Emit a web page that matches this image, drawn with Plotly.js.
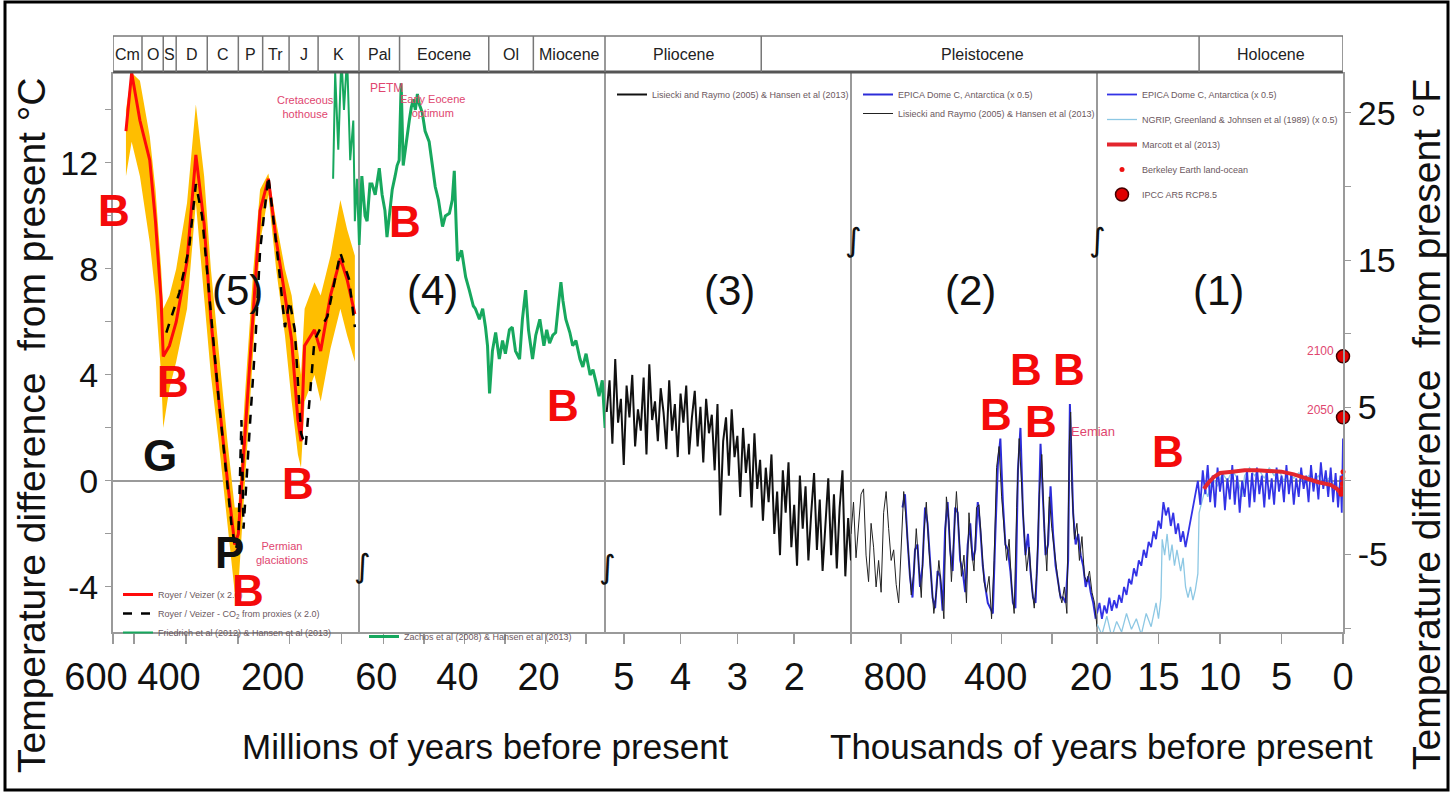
<!DOCTYPE html>
<html><head><meta charset="utf-8">
<script src="https://cdn.plot.ly/plotly-3.0.1.min.js"></script>
<style>html,body{margin:0;padding:0;background:#fff;}#chart{width:1453px;height:804px;}</style>
</head><body><div id="chart"></div>
<script>
// ===================== DATA =====================
// Panel (5): Phanerozoic, millions of years before present
const periodNames = ['Cm','O','S','D','C','P','Tr','J','K'];
const periodBounds = [541,485,444,419,359,299,252,201,145,66];
const royerAge = [516,505,489,470,459,448,444,432,419,398,381,365,352,337,320,306,299,287,270,257,241,226,209,196,184,178,171,152,140,121,102,89,74];
const royerTemp = [13.2,15.4,13.6,12.1,9.8,6.8,4.7,5.1,6.0,8.3,12.3,9.7,6.1,3.1,0.0,-2.4,-2.0,1.5,6.8,10.2,11.4,9.1,7.0,5.3,2.3,1.5,5.1,5.7,4.9,7.0,8.4,7.6,6.3];
const royerUpperTemp = [14.0,15.4,15.1,13.0,11.0,8.0,6.5,7.0,8.0,10.5,14.2,11.5,8.0,5.0,1.5,-1.0,-1.0,3.0,8.0,11.0,11.6,9.8,8.0,7.0,5.0,4.0,6.5,7.5,7.0,8.5,10.6,9.5,8.5];
const royerLowerTemp = [11.5,12.8,11.5,9.0,7.0,4.0,2.0,3.5,4.5,6.5,10.5,7.0,4.0,1.5,-1.5,-4.2,-4.0,0.0,5.0,9.0,10.8,8.0,5.5,3.0,1.0,0.5,3.0,4.0,3.0,5.0,6.5,5.5,4.5];
const co2Age = [438,413,394,381,369,356,346,337,323,312,304,299,293,289,276,266,257,241,222,209,200,190,178,169,152,142,127,102,85,74];
const co2Temp = [5.6,7.1,8.8,11.2,10.0,7.1,4.8,3.1,0.4,-1.7,-2.6,-2.2,2.3,-1.8,2.3,5.3,8.7,11.5,8.3,5.8,6.8,5.7,1.8,1.3,5.3,5.7,6.2,8.6,7.6,5.8];
const friedrichAge = [116,112,106,100,95,89,83,77,74,70,66];
const friedrichTemp = [11.4,15.4,12.5,16.0,14.0,16.0,12.1,13.6,9.8,11.4,8.9];

// Panel (4): Cenozoic, millions of years before present
const epochNames = ['Pal','Eocene','Ol','Miocene'];
const epochBounds = [66,56,34,23,5.33];
const zachosAge = [66.0,65.3,64.5,64.0,63.3,62.8,62.0,61.0,60.3,59.6,
  59.1,58.3,57.8,57.1,56.6,56.1,55.6,55.1,54.6,54.1,
  53.6,53.1,52.6,52.1,51.6,51.1,50.4,49.7,48.7,47.9,
  47.2,46.4,45.4,44.7,43.7,43.0,42.5,42.0,41.7,40.7,
  39.7,38.8,37.8,37.3,36.3,35.5,34.8,34.3,33.8,33.1,
  32.3,31.4,30.6,29.9,28.9,28.2,27.4,26.4,25.7,24.9,
  24.2,23.2,22.4,21.4,20.4,19.7,19.0,18.2,17.5,16.7,
  16.2,15.7,15.0,14.0,13.3,12.5,11.5,10.8,10.0,9.0,
  8.3,7.5,6.8,6.0,5.3];
const zachosTemp = [8.9,11.5,10.0,9.8,11.2,11.2,10.8,11.8,10.8,10.2,
  9.2,10.4,11.0,11.5,11.9,12.1,15.0,11.9,12.5,13.2,
  13.6,14.1,14.4,14.0,14.6,14.2,13.9,13.2,12.8,11.9,
  11.1,10.6,9.6,10.0,10.1,10.6,11.7,9.5,8.3,8.7,
  7.7,7.2,6.6,6.5,6.1,6.5,5.8,5.1,3.3,4.9,
  5.6,4.6,5.3,4.8,5.7,5.8,4.9,4.6,6.1,7.2,
  5.7,4.6,5.5,6.1,5.1,5.7,5.2,5.5,5.6,6.8,
  7.5,6.8,6.1,5.6,5.1,5.3,4.6,4.3,4.8,4.0,
  4.2,3.7,3.2,3.8,2.0];

// Panel (3): Pliocene, millions of years before present
const plioAge = [5.30,5.25,5.20,5.15,5.10,5.05,5.00,4.95,4.90,4.85,
  4.80,4.75,4.70,4.65,4.60,4.55,4.50,4.45,4.40,4.35,
  4.30,4.25,4.20,4.15,4.10,4.05,4.00,3.95,3.90,3.85,
  3.80,3.75,3.70,3.65,3.60,3.55,3.50,3.45,3.40,3.35,
  3.30,3.25,3.20,3.15,3.10,3.05,3.00,2.95,2.90,2.85,
  2.80,2.75,2.70,2.65,2.60,2.55,2.50,2.45,2.40,2.35,
  2.30,2.25,2.20,2.15,2.10,2.05,2.00,1.95,1.90,1.85,
  1.80,1.75,1.70,1.65,1.60,1.55,1.50,1.45,1.40,1.35,
  1.30,1.25,1.20,1.15,1.10,1.05,1.00];
const plioTemp = [2.6,3.8,1.4,4.6,2.2,3.1,0.6,3.6,2.4,4.0,
  1.3,2.7,1.9,3.9,1.0,4.4,2.3,3.0,1.5,3.5,
  2.6,1.2,3.8,1.9,2.9,0.9,3.3,2.2,3.6,1.0,
  2.4,3.4,1.3,2.8,0.7,3.1,1.8,2.5,0.4,2.9,
  -1.3,1.5,2.4,0.2,2.7,0.9,1.7,-0.6,2.0,0.3,
  1.4,-1.0,1.8,-0.3,0.8,-1.5,0.5,-0.8,1.0,-2.0,
  -0.4,-2.8,0.4,-1.2,0.7,-2.5,-0.9,-3.2,0.2,-1.8,
  -0.2,-3.0,-1.2,0.3,-2.6,-0.7,-3.4,-1.5,0.1,-2.8,
  -0.5,-3.3,-1.0,0.4,-3.6,-1.4,-3.0];

// Panel (2): Pleistocene, thousands of years before present
const lrAge = [1000,990,980,970,960,950,940,930,920,910,
  900,890,880,870,860,850,840,830,820,810,
  800,790,780,770,760,750,740,730,720,710,
  700,690,680,670,660,650,640,630,620,610,
  600,590,580,570,560,550,540,530,520,510,
  500,490,480,470,460,450,440,430,420,410,
  400,390,380,370,360,350,340,330,320,310,
  300,290,280,270,260,250,240,230,220,210,
  200,190,180,170,160,150,140,130,125,120,
  110,100,90,80,70,60,50,40,30,20];
const lrTemp = [-2.0,-0.8,-2.9,-1.5,-0.5,-0.3,-2.8,-3.8,-1.6,-2.5,
  -4.0,-3.0,-4.2,-1.2,-0.4,-1.8,-3.0,-2.6,-3.9,-4.6,
  -2.5,-0.4,-1.5,-2.8,-4.3,-3.5,-1.8,-3.2,-4.4,-2.0,
  -0.8,-2.5,-3.6,-5.0,-4.2,-3.0,-4.0,-5.2,-0.6,-1.5,
  -3.8,-2.2,-0.4,-2.0,-3.6,-2.8,-4.6,-1.2,-2.6,-3.4,
  -1.0,-0.9,-2.6,-3.8,-4.2,-3.6,-5.2,-3.0,0.5,1.3,
  -0.6,-1.8,-3.0,-2.2,-4.0,-5.0,-1.0,1.6,-0.4,-2.0,
  -3.4,-2.5,-4.0,-4.8,-3.5,-0.5,1.0,-1.8,-3.4,-0.6,
  -1.8,-2.6,-3.6,-4.2,-4.6,-4.0,-5.0,1.5,2.6,-0.2,
  -2.2,-1.6,-3.0,-2.1,-3.6,-3.8,-3.4,-4.2,-4.6,-5.5];
const epicaAge = [795,785,775,765,755,745,735,725,715,705,
  695,685,675,665,655,645,635,625,615,605,
  595,585,575,565,555,545,535,525,515,505,
  495,485,475,465,455,445,435,425,415,405,
  395,385,375,365,355,345,335,325,315,305,
  295,285,275,265,255,245,235,225,215,205,
  195,185,175,165,155,145,135,128,122,115,
  105,95,85,75,65,55,45,35,25];
const epicaTemp = [-1.0,-0.5,-2.2,-3.6,-4.4,-2.6,-2.4,-4.0,-3.2,-1.0,
  -1.6,-3.0,-4.4,-4.8,-3.4,-3.6,-4.9,-1.8,-0.8,-2.6,
  -3.4,-1.0,-1.2,-3.0,-3.4,-4.2,-2.4,-1.6,-3.0,-2.6,
  -0.8,-1.8,-3.2,-4.0,-4.6,-4.8,-5.0,-2.0,0.6,1.6,
  -0.8,-2.4,-2.6,-3.4,-4.6,-4.8,0.4,2.0,-1.2,-2.8,
  -2.0,-3.4,-4.4,-4.6,-2.4,1.4,-0.6,-2.8,-2.4,-0.2,
  -2.0,-3.2,-3.8,-4.4,-4.4,-4.6,-3.0,2.9,1.0,-1.2,
  -2.4,-2.0,-2.8,-3.2,-4.0,-3.6,-4.2,-4.6,-5.2];

// Panel (1): Holocene & deglaciation, thousands of years before present
const holoEpicaAge = [20.0,19.8,19.6,19.4,19.2,19.0,18.8,18.6,18.4,18.2,
  18.0,17.8,17.6,17.4,17.2,17.0,16.8,16.6,16.4,16.2,
  16.0,15.8,15.6,15.4,15.2,15.0,14.8,14.6,14.4,14.2,
  14.0,13.8,13.6,13.4,13.2,13.0,12.8,12.6,12.4,12.2,
  12.0,11.8,11.6,11.4,11.2,11.0,10.8,10.6,10.4,10.2,
  10.0,9.8,9.6,9.4,9.2,9.0,8.8,8.6,8.4,8.2,
  8.0,7.8,7.6,7.4,7.2,7.0,6.8,6.6,6.4,6.2,
  6.0,5.8,5.6,5.4,5.2,5.0,4.8,4.6,4.4,4.2,
  4.0,3.8,3.6,3.4,3.2,3.0,2.8,2.6,2.4,2.2,
  2.0,1.8,1.6,1.4,1.2,1.0,0.8,0.6,0.4,0.2,
  0.1,0.0];
const holoEpicaTemp = [-5.0,-4.6,-5.2,-4.7,-5.0,-4.4,-4.9,-4.5,-4.8,-4.3,
  -4.6,-4.0,-4.3,-3.7,-3.9,-3.3,-3.6,-3.0,-3.2,-2.6,
  -2.9,-2.3,-2.5,-1.9,-2.2,-1.5,-1.8,-0.8,-1.3,-1.0,
  -1.7,-1.2,-2.0,-1.6,-2.3,-1.9,-2.5,-2.0,-1.6,-1.0,
  -0.6,0.0,-0.9,0.4,-0.5,0.6,-0.8,0.2,-1.0,0.5,
  -0.4,0.3,-1.1,0.1,-0.7,0.6,-0.9,0.2,-1.2,0.0,
  -0.6,0.4,-1.0,0.3,-0.8,0.5,-0.5,0.2,-1.0,0.4,
  -0.7,0.1,-0.9,0.5,-0.4,0.2,-0.8,0.6,-0.5,0.3,
  -0.9,0.1,-0.6,0.5,-0.3,0.2,-0.8,0.6,-0.4,0.3,
  -0.7,0.7,-0.3,0.4,-0.6,0.5,-0.8,0.3,-1.0,0.2,
  -1.2,1.6];
const ngripAge = [20.0,19.6,19.2,18.8,18.4,18.0,17.6,17.2,16.8,16.4,
  16.0,15.6,15.2,15.0,14.8,14.7,14.5,14.3,14.1,13.9,
  13.7,13.5,13.2,13.0,12.8,12.6,12.4,12.2,12.0,11.8,
  11.7,11.5,11.2,11.0,10.6,10.2,9.8,9.4,9.0,8.6,
  8.2,8.0,7.6,7.2,6.8,6.4,6.0,5.6,5.2,4.8,
  4.4,4.0,3.6,3.2,2.8,2.4,2.0,1.6,1.2,0.8,
  0.4,0.0];
const ngripTemp = [-5.4,-5.8,-5.1,-5.9,-5.3,-5.7,-5.0,-5.6,-5.2,-5.8,
  -5.0,-5.5,-4.6,-5.2,-4.4,-2.2,-2.8,-2.0,-3.0,-2.4,
  -3.2,-2.6,-3.4,-2.9,-4.0,-4.4,-4.0,-4.5,-4.1,-3.5,
  -1.2,-0.8,-0.3,-0.6,0.1,-0.2,0.3,0.0,0.4,0.1,
  -0.6,0.2,0.5,0.2,0.4,0.1,0.5,0.2,0.4,0.0,
  0.3,0.1,0.3,-0.1,0.2,0.0,0.2,-0.2,0.1,-0.1,
  -0.3,0.0];
const marcottAge = [11.3,11.0,10.5,10.0,9.0,8.0,7.0,6.0,5.0,4.0,3.0,2.0,1.0,0.5,0.2,0.1,0.05];
const marcottTemp = [-0.3,-0.1,0.15,0.3,0.35,0.4,0.4,0.38,0.35,0.25,0.1,-0.05,-0.15,-0.3,-0.45,-0.35,-0.1];
const berkeleyAge = [0.16,0.13,0.10,0.07,0.04,0.02,0.0];
const berkeleyTemp = [-0.5,-0.4,-0.45,-0.3,-0.1,0.1,0.35];
const ipccAge = [0, 0];
const ipccTemp = [4.7, 2.4];
const ipccYears = ['2100', '2050'];

// Axis ticks
const cTickVals = [-4,-2,0,2,4,6,8,10,12,14];
const cTickText = ['-4','','0','','4','','8','','12',''];
const fTickVals = [-10,-5,0,5,10,15,20,25];
const fTickText = ['','-5','','5','','15','','25'];

// ===================== LAYOUT HELPERS =====================
const SANS = '"Liberation Sans",Arial,sans-serif';
const L = 113, R = 1343, T = 72, B = 632;
const P = px => (px - L) / (R - L);
const Q = py => (B - py) / (B - T);
const HEAD_TOP = Q(36);
const GRAY = '#9a9a9a';

const xCommon = {
  showgrid:false, zeroline:false, showline:true, linecolor:GRAY, linewidth:2,
  ticks:'outside', ticklen:10, tickwidth:1.5, tickcolor:GRAY, tickangle:0,
  tickfont:{family:SANS, size:38, color:'#111'}, automargin:false, anchor:'y', fixedrange:true
};

const traces = [];
// Panel 5
traces.push({x: royerAge.concat(royerAge.slice().reverse()),
  y: royerUpperTemp.concat(royerLowerTemp.slice().reverse()),
  xaxis:'x', yaxis:'y', mode:'lines', fill:'toself', fillcolor:'#ffbe00',
  line:{width:0, color:'#ffbe00'}, showlegend:false, hoverinfo:'skip'});
traces.push({x: royerAge, y: royerTemp, xaxis:'x', yaxis:'y', mode:'lines',
  line:{color:'#ff0a0a', width:3}, name:'Royer / Veizer (x 2.0)', legend:'legend'});
traces.push({x: co2Age, y: co2Temp, xaxis:'x', yaxis:'y', mode:'lines',
  line:{color:'#000', width:2.5, dash:'dash'}, name:'Royer / Veizer - CO<sub>2</sub> from proxies (x 2.0)', legend:'legend'});
traces.push({x: friedrichAge, y: friedrichTemp, xaxis:'x', yaxis:'y', mode:'lines',
  line:{color:'#17a85e', width:2}, name:'Friedrich et al (2012) & Hansen et al (2013)', legend:'legend'});
// Panel 4
traces.push({x: zachosAge, y: zachosTemp, xaxis:'x2', yaxis:'y', mode:'lines',
  line:{color:'#17a85e', width:3}, name:'Zachos et al (2008) & Hansen et al (2013)', legend:'legend2'});
// Panel 3
traces.push({x: plioAge, y: plioTemp, xaxis:'x3', yaxis:'y', mode:'lines',
  line:{color:'#111', width:2}, name:'Lisiecki and Raymo (2005) & Hansen et al (2013)', legend:'legend3'});
// Panel 2
traces.push({x: epicaAge, y: epicaTemp, xaxis:'x4', yaxis:'y', mode:'lines',
  line:{color:'#2c2cd8', width:2}, name:'EPICA Dome C, Antarctica (x 0.5)', legend:'legend4'});
traces.push({x: lrAge, y: lrTemp, xaxis:'x4', yaxis:'y', mode:'lines',
  line:{color:'#222', width:1}, name:'Lisiecki and Raymo (2005) & Hansen et al (2013)', legend:'legend4'});
// Panel 1
traces.push({x: ngripAge, y: ngripTemp, xaxis:'x5', yaxis:'y', mode:'lines', legendgroup:'g2',
  line:{color:'#8dc8e4', width:1.3}, name:'NGRIP, Greenland & Johnsen et al (1989) (x 0.5)', legend:'legend5', legendrank:2});
traces.push({x: holoEpicaAge, y: holoEpicaTemp, xaxis:'x5', yaxis:'y', mode:'lines', legendgroup:'g1',
  line:{color:'#3333e6', width:1.8}, name:'EPICA Dome C, Antarctica (x 0.5)', legend:'legend5', legendrank:1});
traces.push({x: marcottAge, y: marcottTemp, xaxis:'x5', yaxis:'y', mode:'lines', legendgroup:'g3',
  line:{color:'#e3262e', width:4}, name:'Marcott et al (2013)', legend:'legend5', legendrank:3});
traces.push({x: berkeleyAge, y: berkeleyTemp, xaxis:'x5', yaxis:'y', mode:'markers', cliponaxis:false, legendgroup:'g4',
  marker:{color:'#ee1111', size:5}, name:'Berkeley Earth land-ocean', legend:'legend5', legendrank:4});
traces.push({x: ipccAge, y: ipccTemp, xaxis:'x5', yaxis:'y', mode:'markers', cliponaxis:false, legendgroup:'g5',
  marker:{color:'#e00000', size:13, line:{color:'#400', width:1.5}}, name:'IPCC AR5 RCP8.5', legend:'legend5', legendrank:5});
// empty trace that makes the °F axis exist
traces.push({x: [], y: [], xaxis:'x5', yaxis:'y2', mode:'lines', showlegend:false, hoverinfo:'skip'});

// ===================== SHAPES =====================
const shapes = [];
shapes.push({type:'rect', xref:'paper', yref:'paper', x0:P(5), x1:P(1448), y0:Q(790), y1:Q(2), line:{color:'#000', width:3}});
shapes.push({type:'line', xref:'paper', yref:'y', x0:0, x1:1, y0:0, y1:0, line:{color:GRAY, width:2}, layer:'below'});
[0.2,0.4,0.6,0.8].forEach(d => shapes.push({type:'line', xref:'paper', yref:'paper', x0:d, x1:d, y0:0, y1:1, line:{color:GRAY, width:2}, layer:'below'}));
shapes.push({type:'line', xref:'paper', yref:'paper', x0:0, x1:1, y0:HEAD_TOP, y1:HEAD_TOP, line:{color:'#777', width:1.5}});
shapes.push({type:'line', xref:'paper', yref:'paper', x0:0, x1:1, y0:1, y1:1, line:{color:'#555', width:3}});
const headDiv = (xref, v) => shapes.push({type:'line', xref:xref, yref:'paper', x0:v, x1:v, y0:1, y1:HEAD_TOP, line:{color:'#777', width:1.5}});
periodBounds.forEach(v => headDiv('x', v));
epochBounds.forEach(v => headDiv('x2', v));
headDiv('x3', 5.33); headDiv('x3', 2.58); headDiv('x5', 11.7); headDiv('x5', 0);

// ===================== ANNOTATIONS =====================
const ann = [];
const HEAD_Y = (1 + HEAD_TOP) / 2;
const headFont = {family:SANS, size:16, color:'#222'};
const C = {showarrow:false, xanchor:'center', yanchor:'middle'};
periodNames.forEach((n,i) => ann.push(Object.assign({xref:'x', yref:'paper', x:(periodBounds[i]+periodBounds[i+1])/2, y:HEAD_Y, text:n, font:headFont}, C)));
epochNames.forEach((n,i) => ann.push(Object.assign({xref:'x2', yref:'paper', x:(epochBounds[i]+epochBounds[i+1])/2, y:HEAD_Y, text:n, font:headFont}, C)));
ann.push(Object.assign({xref:'x3', yref:'paper', x:(5.33+2.58)/2, y:HEAD_Y, text:'Pliocene', font:headFont}, C));
ann.push(Object.assign({xref:'paper', yref:'paper', x:P(982), y:HEAD_Y, text:'Pleistocene', font:headFont}, C));
ann.push(Object.assign({xref:'x5', yref:'paper', x:11.7/2, y:HEAD_Y, text:'Holocene', font:headFont}, C));

const txt = (px, py, text, font, extra) => ann.push(Object.assign({xref:'paper', yref:'paper', x:P(px), y:Q(py), text:text, font:font}, C, extra||{}));
const bigB = {family:SANS, size:44, color:'#f40a0a'};
[[114,210],[173,381],[298,483],[248,590],[405,221],[563,405],[996,414],[1026,369],[1041,421],[1069,369],[1168,451]]
  .forEach(p => txt(p[0], p[1], '<b>B</b>', bigB));
const bigK = {family:SANS, size:44, color:'#111'};
txt(160, 455, '<b>G</b>', bigK);
txt(229, 552, '<b>P</b>', bigK);
const panelFont = {family:SANS, size:42, color:'#111'};
[[237,'(5)'],[432,'(4)'],[729,'(3)'],[970,'(2)'],[1218,'(1)']].forEach(p => txt(p[0], 290, p[1], panelFont));
const pink = {family:SANS, size:11, color:'#e0466f'};
txt(305, 107, 'Cretaceous<br>hothouse', pink);
txt(386, 88, 'PETM', {family:SANS, size:12, color:'#e0466f'});
txt(432, 106, 'Early Eocene<br>optimum', pink);
txt(282, 553, 'Permian<br>glaciations', pink);
txt(1093, 432, 'Eemian', {family:SANS, size:13, color:'#e0466f'});
txt(1320, 351, ipccYears[0], {family:SANS, size:12, color:'#e0466f'});
txt(1320, 410, ipccYears[1], {family:SANS, size:12, color:'#e0466f'});
const brk = {family:'DejaVu Sans', size:32, color:'#111'};
[[362,566],[607,567],[853,240],[1097,240]].forEach(p => txt(p[0], p[1], '∫', brk));
const xTitleFont = {family:SANS, size:35, color:'#111'};
txt(485, 746, 'Millions of years before present', xTitleFont);
txt(1101, 746, 'Thousands of years before present', xTitleFont);
const yTitleFont = {family:SANS, size:39, color:'#111'};
txt(31, 425, 'Temperature difference  from present °C', yTitleFont, {textangle:-90});
txt(1426, 425, 'Temperature difference  from present °F', yTitleFont, {textangle:-90});

const legendBase = {xanchor:'left', yanchor:'top', bgcolor:'rgba(0,0,0,0)', borderwidth:0,
  font:{family:SANS, size:9, color:'#6b5860'}, itemwidth:30, tracegroupgap:0};

const layout = {
  width:1453, height:804, margin:{l:L, r:1453-R, t:T, b:804-B, pad:0},
  paper_bgcolor:'#fff', plot_bgcolor:'rgba(0,0,0,0)', hovermode:false, showlegend:true,
  xaxis: Object.assign({}, xCommon, {domain:[0,0.2], range:[541,66], tickvals:[541,500,400,300,200,100], ticktext:['600','','400','','200',''], ticklabelshift:17}),
  xaxis2: Object.assign({}, xCommon, {domain:[0.2,0.4], range:[66,5.33], tickvals:[60,50,40,30,20,10], ticktext:['60','','40','','20',''], ticklabelshift:7}),
  xaxis3: Object.assign({}, xCommon, {domain:[0.4,0.6], range:[5.33,1.0], tickvals:[5,4,3,2], ticktext:['5','4','3','2']}),
  xaxis4: Object.assign({}, xCommon, {domain:[0.6,0.8], range:[1000,20], tickvals:[1000,800,600,400,200,20], ticktext:['','800','','400','','20'], ticklabelshift:6}),
  xaxis5: Object.assign({}, xCommon, {domain:[0.8,1.0], range:[20,0], tickvals:[20,15,10,5,0], ticktext:['','15','10','5','0']}),
  yaxis: {domain:[0,1], range:[-5.70,15.43], anchor:'x', showgrid:false, zeroline:false, showline:true, linecolor:GRAY, linewidth:2,
    ticks:'outside', ticklen:6, tickcolor:GRAY, tickvals:cTickVals, ticktext:cTickText,
    tickfont:{family:SANS, size:34, color:'#111'}, automargin:false, fixedrange:true},
  yaxis2: {overlaying:'y', side:'right', anchor:'x5', range:[-10.26,27.77], showgrid:false, zeroline:false, showline:true, linecolor:GRAY, linewidth:2,
    ticks:'outside', ticklen:6, tickcolor:GRAY, tickvals:fTickVals, ticktext:fTickText,
    tickfont:{family:SANS, size:34, color:'#111'}, automargin:false, fixedrange:true},
  legend: Object.assign({}, legendBase, {x:P(118), y:Q(580)}),
  legend2: Object.assign({}, legendBase, {x:P(364), y:Q(622)}),
  legend3: Object.assign({}, legendBase, {x:P(612), y:Q(80)}),
  legend4: Object.assign({}, legendBase, {x:P(858), y:Q(80)}),
  legend5: Object.assign({}, legendBase, {x:P(1102), y:Q(80), tracegroupgap:6}),
  shapes: shapes, annotations: ann
};

Plotly.newPlot('chart', traces, layout, {displayModeBar:false, staticPlot:true});
</script></body></html>
